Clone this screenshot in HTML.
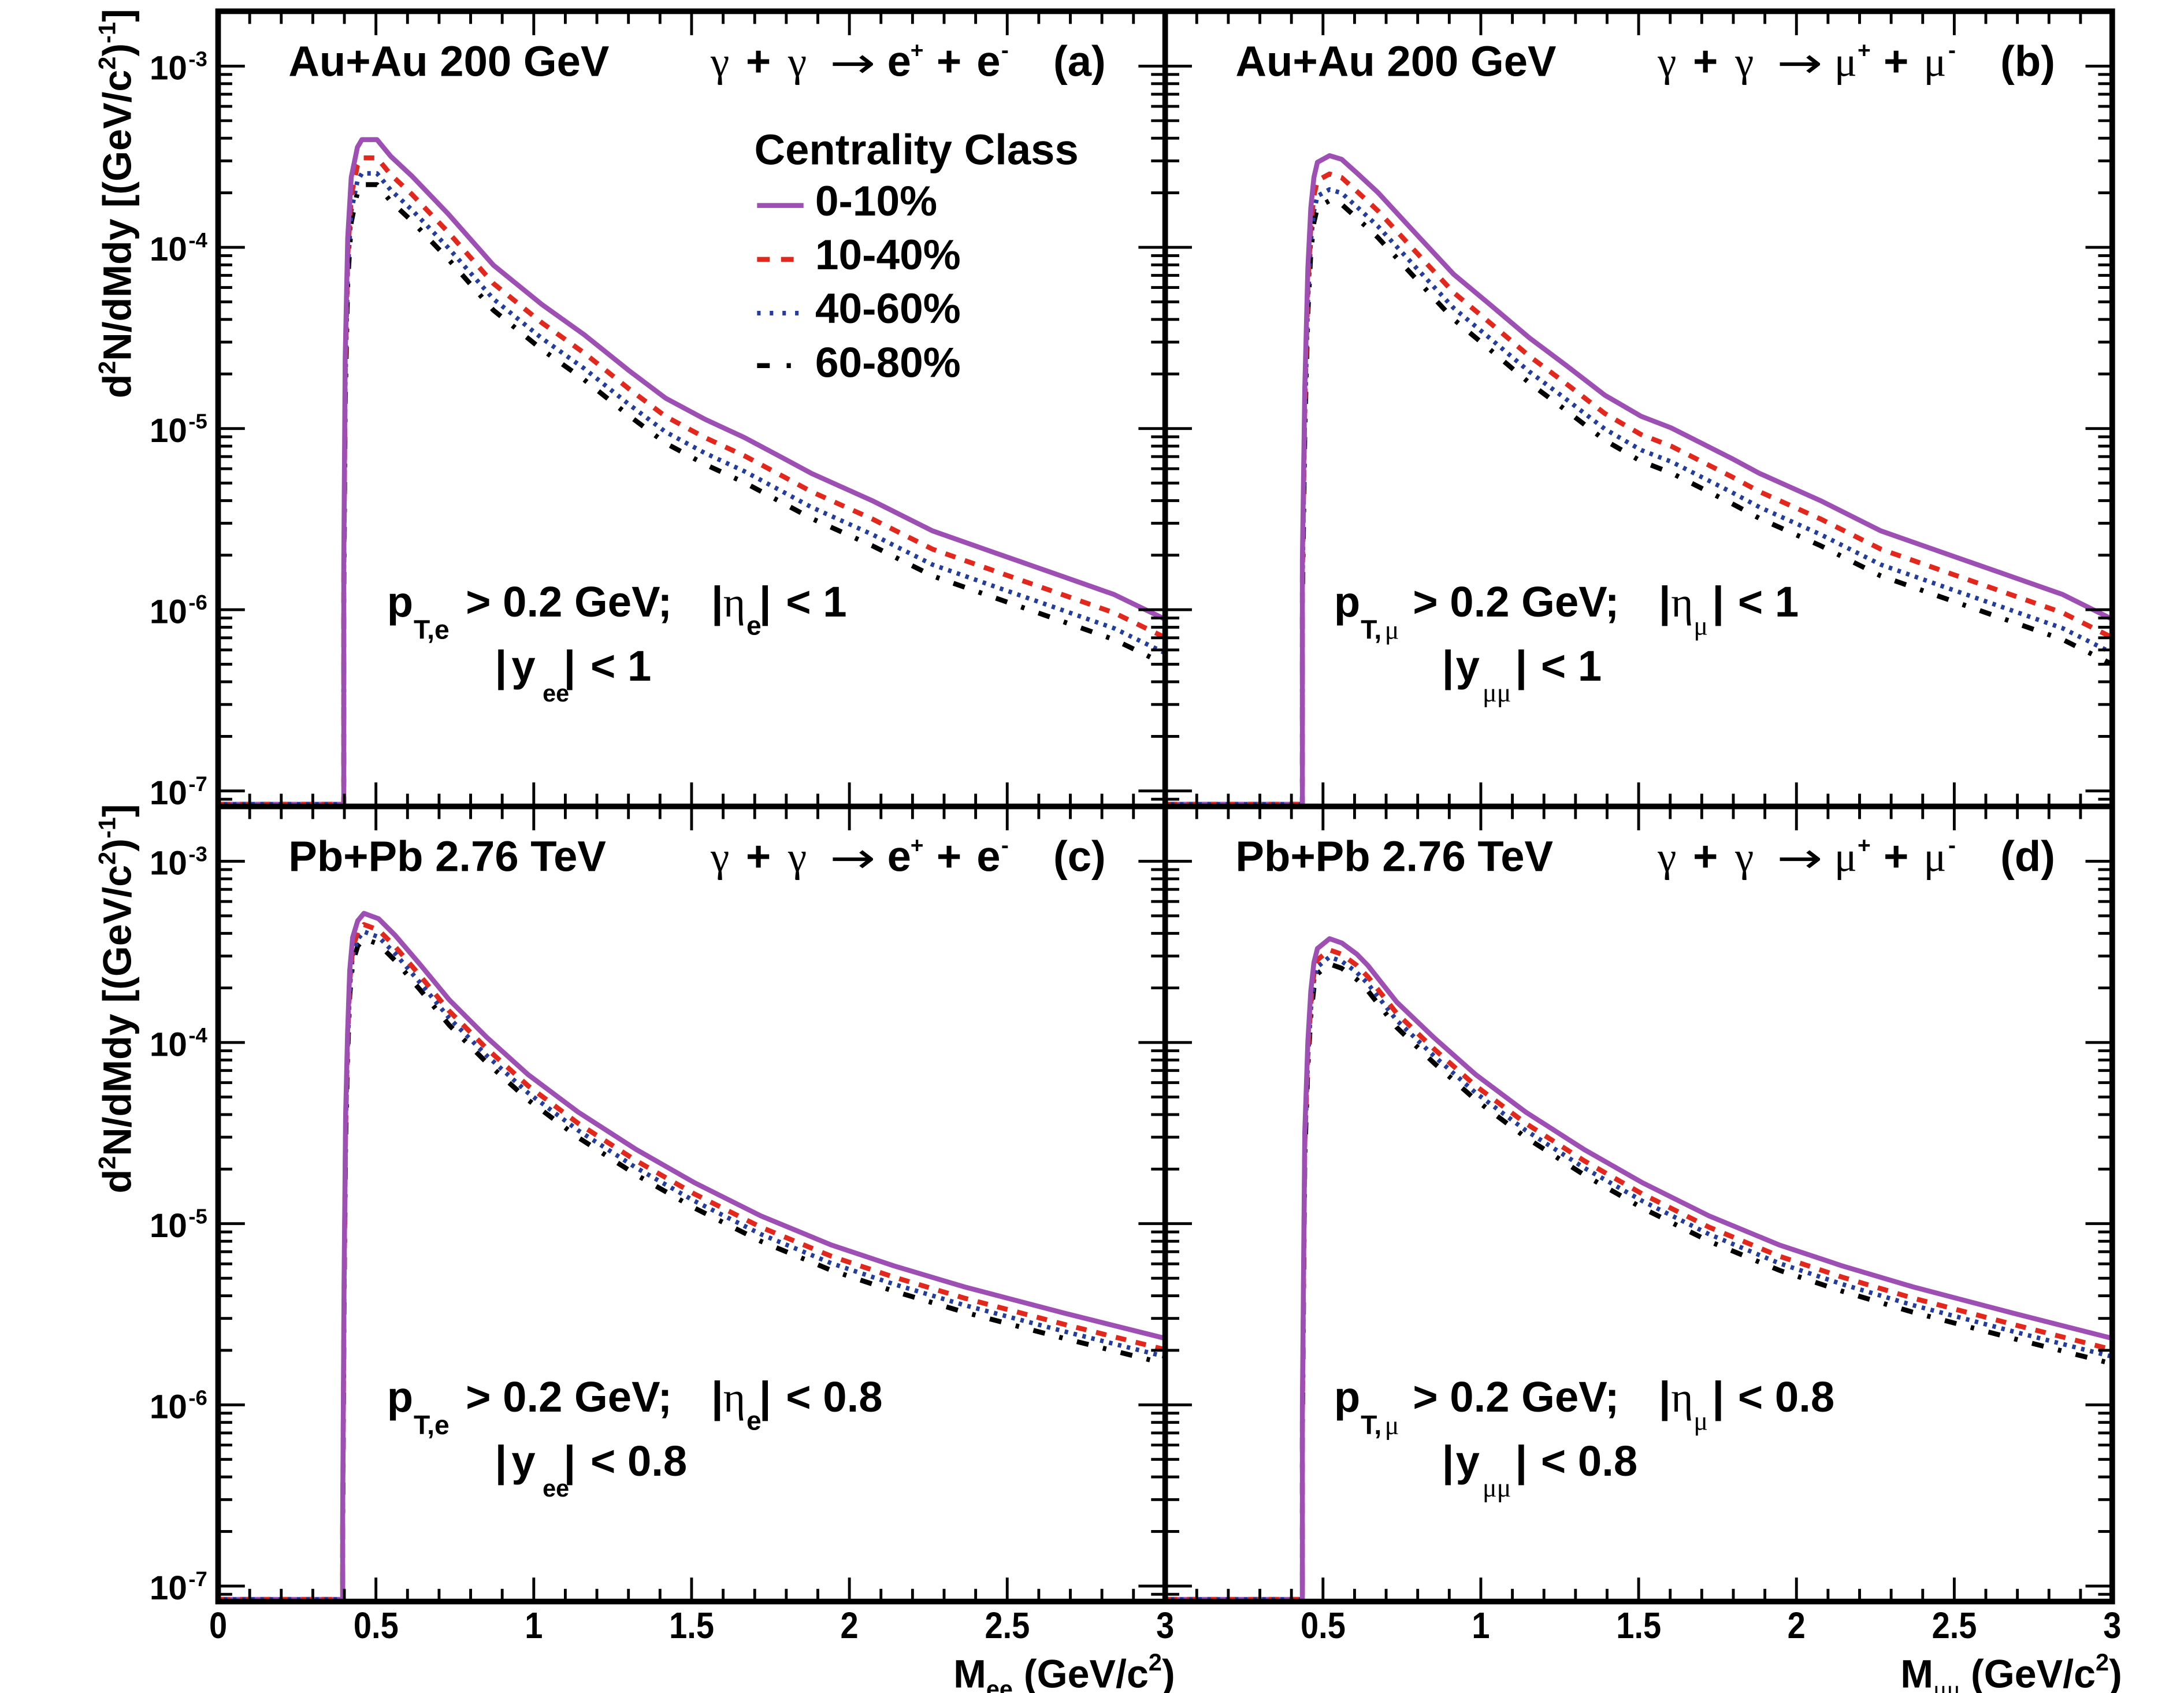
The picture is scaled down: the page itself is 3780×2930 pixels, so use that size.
<!DOCTYPE html>
<html><head><meta charset="utf-8"><style>html,body{margin:0;padding:0;background:#fff}svg{display:block}</style></head><body>
<svg xmlns="http://www.w3.org/2000/svg" width="3780" height="2930" viewBox="0 0 1552 1203" preserveAspectRatio="none" font-family="'Liberation Sans', Arial, sans-serif" font-weight="bold">
<defs>
<clipPath id="ca"><rect x="155" y="8" width="673" height="565"/></clipPath>
<clipPath id="cb"><rect x="828" y="8" width="673" height="565"/></clipPath>
<clipPath id="cc"><rect x="155" y="573" width="673" height="565"/></clipPath>
<clipPath id="cd"><rect x="828" y="573" width="673" height="565"/></clipPath>
<polyline id="pa" points="244.3,575 244.3,400 245.3,255 247.1,169 249.6,126 254,104.6 257.2,99.2 267.9,99.2 277.6,111 292.6,125 318.4,151.9 350.6,188.4 385,216.3 415.1,237.8 447.3,263.6 473.1,283 501.1,298 529,310.9 557,325.8 576.7,336.4 619.7,355.7 662.6,377.2 705.6,392.3 748.6,407.3 791.6,422.4 830,441"/>
<polyline id="pb" points="925.5,575 925.5,398 927.2,276.5 929.4,190.5 931.5,147.6 933.7,126 936.2,115.3 944.8,110.6 953.4,113.2 964.2,122.9 979.2,136.8 1005,164.8 1032.9,194.8 1058.7,216.3 1086.7,240 1112.5,259.3 1140.4,280.8 1166.2,295.8 1187.5,304 1230.7,325.8 1250.4,336.4 1293.6,355.7 1336.5,377.2 1379.6,392.3 1422.6,407.3 1465.7,422.4 1503,441"/>
<polyline id="pc" points="243.5,1140 243.5,1079 244.5,911.3 245.6,793.1 247,734 248.5,689.8 250.6,666.1 254.2,654.3 258.6,649 269,652.8 280.8,664.6 298.5,685.3 319.2,710.4 345.8,737 375.3,763.6 410.8,790.2 452.1,816.8 493.5,840.4 540.7,864 590.9,884.7 635.3,899.5 684.9,914.3 756,933 830,951.5"/>
<polyline id="pd" points="925.5,1140 925.5,1000 927.2,805 929.4,740 931.5,704 933.7,684 936.2,674 944.8,667 953.4,670 964.2,678 972,686 992.5,712 1019.2,737.5 1048.7,763.6 1084.2,790.2 1125.7,816.8 1167.1,840.4 1214.5,864 1264.6,884.7 1309.1,899.5 1359,914.3 1430.2,933 1503,951.5"/>
<path id="yt" d="M0 47h19M0 175.75h19M0 304.5h19M0 433.25h19M0 562h19M0 136.99h10M0 114.32h10M0 98.23h10M0 85.76h10M0 75.56h10M0 66.94h10M0 59.48h10M0 52.89h10M0 265.74h10M0 243.07h10M0 226.98h10M0 214.51h10M0 204.31h10M0 195.69h10M0 188.23h10M0 181.64h10M0 394.49h10M0 371.82h10M0 355.73h10M0 343.26h10M0 333.06h10M0 324.44h10M0 316.98h10M0 310.39h10M0 523.24h10M0 500.57h10M0 484.48h10M0 472.01h10M0 461.81h10M0 453.19h10M0 445.73h10M0 439.14h10M0 567.89h10"/>
<path id="xt" d="M112.15 0v-17M224.3 0v-17M336.45 0v-17M448.6 0v-17M560.75 0v-17M22.43 0v-9M44.86 0v-9M67.29 0v-9M89.72 0v-9M134.58 0v-9M157.01 0v-9M179.44 0v-9M201.87 0v-9M246.73 0v-9M269.16 0v-9M291.59 0v-9M314.02 0v-9M358.88 0v-9M381.31 0v-9M403.74 0v-9M426.17 0v-9M471.03 0v-9M493.46 0v-9M515.89 0v-9M538.32 0v-9M583.18 0v-9M605.61 0v-9M628.04 0v-9M650.47 0v-9"/>
</defs>
<rect x="0" y="0" width="1552" height="1203" fill="#fff"/>

<!-- curves -->
<g fill="none" stroke-linejoin="round">
<g clip-path="url(#ca)">
<line x1="156" y1="571.5" x2="244" y2="571.5" stroke="#9d4fb3" stroke-width="3.5"/>
<line x1="156" y1="571.5" x2="244" y2="571.5" stroke="#e2271d" stroke-width="3.5" stroke-dasharray="7.5 7"/>
<line x1="159" y1="571.5" x2="244" y2="571.5" stroke="#233c9e" stroke-width="3.2" stroke-dasharray="2.5 4"/>
<use href="#pa" transform="translate(0,32)" stroke="#000" stroke-width="3.5" stroke-dasharray="8.5 10.5 2.5 10.5"/>
<use href="#pa" transform="translate(0,24)" stroke="#233c9e" stroke-width="3.2" stroke-dasharray="2.5 4"/>
<use href="#pa" transform="translate(0,13)" stroke="#e2271d" stroke-width="3.5" stroke-dasharray="7.5 7"/>
<use href="#pa" stroke="#9d4fb3" stroke-width="3.5"/>
</g>
<g clip-path="url(#cb)">
<line x1="829" y1="571.5" x2="925" y2="571.5" stroke="#9d4fb3" stroke-width="3.5"/>
<line x1="829" y1="571.5" x2="925" y2="571.5" stroke="#e2271d" stroke-width="3.5" stroke-dasharray="7.5 7"/>
<line x1="832" y1="571.5" x2="925" y2="571.5" stroke="#233c9e" stroke-width="3.2" stroke-dasharray="2.5 4"/>
<use href="#pb" transform="translate(0,32)" stroke="#000" stroke-width="3.5" stroke-dasharray="8.5 10.5 2.5 10.5"/>
<use href="#pb" transform="translate(0,24)" stroke="#233c9e" stroke-width="3.2" stroke-dasharray="2.5 4"/>
<use href="#pb" transform="translate(0,13)" stroke="#e2271d" stroke-width="3.5" stroke-dasharray="7.5 7"/>
<use href="#pb" stroke="#9d4fb3" stroke-width="3.5"/>
</g>
<g clip-path="url(#cc)">
<line x1="156" y1="1136.5" x2="243" y2="1136.5" stroke="#9d4fb3" stroke-width="3.5"/>
<line x1="156" y1="1136.5" x2="243" y2="1136.5" stroke="#e2271d" stroke-width="3.5" stroke-dasharray="7.5 7"/>
<line x1="159" y1="1136.5" x2="243" y2="1136.5" stroke="#233c9e" stroke-width="3.2" stroke-dasharray="2.5 4"/>
<use href="#pc" transform="translate(0,18)" stroke="#000" stroke-width="3.5" stroke-dasharray="8.5 10.5 2.5 10.5"/>
<use href="#pc" transform="translate(0,13)" stroke="#233c9e" stroke-width="3.2" stroke-dasharray="2.5 4"/>
<use href="#pc" transform="translate(0,8)" stroke="#e2271d" stroke-width="3.5" stroke-dasharray="7.5 7"/>
<use href="#pc" stroke="#9d4fb3" stroke-width="3.5"/>
</g>
<g clip-path="url(#cd)">
<line x1="829" y1="1136.5" x2="925" y2="1136.5" stroke="#9d4fb3" stroke-width="3.5"/>
<line x1="829" y1="1136.5" x2="925" y2="1136.5" stroke="#e2271d" stroke-width="3.5" stroke-dasharray="7.5 7"/>
<line x1="832" y1="1136.5" x2="925" y2="1136.5" stroke="#233c9e" stroke-width="3.2" stroke-dasharray="2.5 4"/>
<use href="#pd" transform="translate(0,18)" stroke="#000" stroke-width="3.5" stroke-dasharray="8.5 10.5 2.5 10.5"/>
<use href="#pd" transform="translate(0,13)" stroke="#233c9e" stroke-width="3.2" stroke-dasharray="2.5 4"/>
<use href="#pd" transform="translate(0,8)" stroke="#e2271d" stroke-width="3.5" stroke-dasharray="7.5 7"/>
<use href="#pd" stroke="#9d4fb3" stroke-width="3.5"/>
</g>
</g>

<!-- ticks -->
<g stroke="#000" stroke-width="2" fill="none">
<use href="#xt" transform="translate(155,573)"/>
<use href="#xt" transform="translate(155,8) scale(1,-1)"/>
<use href="#xt" transform="translate(828,573)"/>
<use href="#xt" transform="translate(828,8) scale(1,-1)"/>
<use href="#xt" transform="translate(155,1138)"/>
<use href="#xt" transform="translate(155,573) scale(1,-1)"/>
<use href="#xt" transform="translate(828,1138)"/>
<use href="#xt" transform="translate(828,573) scale(1,-1)"/>
<use href="#yt" transform="translate(155,0)"/>
<use href="#yt" transform="translate(828,0) scale(-1,1)"/>
<use href="#yt" transform="translate(828,0)"/>
<use href="#yt" transform="translate(1501,0) scale(-1,1)"/>
<use href="#yt" transform="translate(155,565)"/>
<use href="#yt" transform="translate(828,565) scale(-1,1)"/>
<use href="#yt" transform="translate(828,565)"/>
<use href="#yt" transform="translate(1501,565) scale(-1,1)"/>
</g>

<!-- frames -->
<g stroke="#000" stroke-width="4" fill="none">
<rect x="155" y="8" width="1346" height="1130"/>
<line x1="828" y1="8" x2="828" y2="1138"/>
<line x1="155" y1="573" x2="1501" y2="573"/>
</g>

<!-- y tick labels -->
<g font-size="24" text-anchor="end">
<text x="133" y="56.5">10</text><text x="133" y="185.25">10</text><text x="133" y="314">10</text><text x="133" y="442.75">10</text><text x="133" y="571.5">10</text>
<text x="133" y="621.5">10</text><text x="133" y="750.25">10</text><text x="133" y="879">10</text><text x="133" y="1007.75">10</text><text x="133" y="1136.5">10</text>
</g>
<g font-size="15">
<text x="134" y="47">-3</text><text x="134" y="175.75">-4</text><text x="134" y="304.5">-5</text><text x="134" y="433.25">-6</text><text x="134" y="562">-7</text>
<text x="134" y="612">-3</text><text x="134" y="740.75">-4</text><text x="134" y="869.5">-5</text><text x="134" y="998.25">-6</text><text x="134" y="1127">-7</text>
</g>

<!-- x tick labels -->
<g font-size="23" text-anchor="middle">
<text transform="translate(155,1164) scale(1,1.15)">0</text>
<text transform="translate(267.2,1164) scale(1,1.15)">0.5</text>
<text transform="translate(379.3,1164) scale(1,1.15)">1</text>
<text transform="translate(491.5,1164) scale(1,1.15)">1.5</text>
<text transform="translate(603.6,1164) scale(1,1.15)">2</text>
<text transform="translate(715.8,1164) scale(1,1.15)">2.5</text>
<text transform="translate(828,1164) scale(1,1.15)">3</text>
<text transform="translate(940.2,1164) scale(1,1.15)">0.5</text>
<text transform="translate(1052.3,1164) scale(1,1.15)">1</text>
<text transform="translate(1164.5,1164) scale(1,1.15)">1.5</text>
<text transform="translate(1276.6,1164) scale(1,1.15)">2</text>
<text transform="translate(1388.8,1164) scale(1,1.15)">2.5</text>
<text transform="translate(1501,1164) scale(1,1.15)">3</text>
</g>

<!-- axis titles -->
<text transform="translate(93,283) rotate(-90)" font-size="28">d<tspan font-size="17" dy="-11">2</tspan><tspan dy="11">N/dMdy [(GeV/c</tspan><tspan font-size="17" dy="-11">2</tspan><tspan dy="11">)</tspan><tspan font-size="17" dy="-11">-1</tspan><tspan dy="11">]</tspan></text>
<text transform="translate(93,848) rotate(-90)" font-size="28">d<tspan font-size="17" dy="-11">2</tspan><tspan dy="11">N/dMdy [(GeV/c</tspan><tspan font-size="17" dy="-11">2</tspan><tspan dy="11">)</tspan><tspan font-size="17" dy="-11">-1</tspan><tspan dy="11">]</tspan></text>

<text x="677.5" y="1199" font-size="28">M</text>
<text x="700.8" y="1206" font-size="17">ee</text>
<text x="727.5" y="1199" font-size="28">(GeV/c</text>
<text x="816.2" y="1187" font-size="17">2</text>
<text x="825.7" y="1199" font-size="28">)</text>

<text x="1350.5" y="1199" font-size="28">M</text>
<text x="1373.8" y="1206" font-size="18" font-family="'Liberation Serif', serif" font-weight="normal">μμ</text>
<text x="1400.5" y="1199" font-size="28">(GeV/c</text>
<text x="1489.2" y="1187" font-size="17">2</text>
<text x="1498.7" y="1199" font-size="28">)</text>

<!-- panel titles -->
<g font-size="30.5">
<text x="205" y="54">Au+Au 200 GeV</text>
<text x="878" y="54">Au+Au 200 GeV</text>
<text x="205" y="619">Pb+Pb 2.76 TeV</text>
<text x="878" y="619">Pb+Pb 2.76 TeV</text>
</g>

<!-- reactions -->
<g font-size="30" font-family="'Liberation Serif', serif" font-weight="normal">
<text x="505" y="54">γ</text><text x="560" y="54">γ</text>
<text x="505" y="619">γ</text><text x="560" y="619">γ</text>
<text x="1178" y="54">γ</text><text x="1233" y="54">γ</text>
<text x="1303.5" y="54">μ</text><text x="1367" y="54">μ</text>
<text x="1178" y="619">γ</text><text x="1233" y="619">γ</text>
<text x="1303.5" y="619">μ</text><text x="1367" y="619">μ</text>
</g>
<g font-size="30" font-family="'DejaVu Sans', 'Liberation Sans', sans-serif" font-weight="normal" text-anchor="middle">
<text transform="translate(606,55) scale(1.3,1)">→</text>
<text transform="translate(606,620) scale(1.3,1)">→</text>
<text transform="translate(1279,55) scale(1.3,1)">→</text>
<text transform="translate(1279,620) scale(1.3,1)">→</text>
</g>
<g font-size="30.5">
<text x="530" y="54">+</text><text x="630.5" y="54">e</text><text x="665.5" y="54">+</text><text x="694" y="54">e</text><text x="748.5" y="54">(a)</text>
<text x="530" y="619">+</text><text x="630.5" y="619">e</text><text x="665.5" y="619">+</text><text x="694" y="619">e</text><text x="748.5" y="619">(c)</text>
<text x="1203" y="54">+</text><text x="1338.5" y="54">+</text><text x="1421.5" y="54">(b)</text>
<text x="1203" y="619">+</text><text x="1338.5" y="619">+</text><text x="1421.5" y="619">(d)</text>
</g>
<g font-size="16">
<text x="647" y="41">+</text><text x="711.5" y="41">-</text>
<text x="647" y="606">+</text><text x="711.5" y="606">-</text>
<text x="1320" y="41">+</text><text x="1384.5" y="41">-</text>
<text x="1320" y="606">+</text><text x="1384.5" y="606">-</text>
</g>

<!-- legend -->
<text x="536" y="116.8" font-size="30.5">Centrality Class</text>
<g font-size="30">
<text x="579.3" y="153.1">0-10%</text>
<text x="579.3" y="191.3">10-40%</text>
<text x="579.3" y="229.6">40-60%</text>
<text x="579.3" y="267.9">60-80%</text>
</g>
<g fill="none">
<path d="M538 146H571" stroke="#9d4fb3" stroke-width="3.5"/>
<path d="M538 184.3h9M555 184.3h9" stroke="#e2271d" stroke-width="3.5"/>
<path d="M538 222.5h2.5M547 222.5h2.5M556 222.5h2.5M565 222.5h2.5" stroke="#233c9e" stroke-width="3.2"/>
<path d="M538 259.8h9M559 259.8h3" stroke="#000" stroke-width="3.5"/>
</g>

<!-- cut text -->
<g font-size="30.5">
<text x="275" y="438">p</text><text x="331" y="438">&gt; 0.2 GeV;</text><text x="558.5" y="438">&lt; 1</text>
<text x="363.5" y="483.6">y</text><text x="419.6" y="483.6">&lt; 1</text>
<text x="275" y="1003">p</text><text x="331" y="1003">&gt; 0.2 GeV;</text><text x="558.5" y="1003">&lt; 0.8</text>
<text x="363.5" y="1048.6">y</text><text x="419.6" y="1048.6">&lt; 0.8</text>
<text x="948" y="438">p</text><text x="1004" y="438">&gt; 0.2 GeV;</text><text x="1235" y="438">&lt; 1</text>
<text x="1034.5" y="483.6">y</text><text x="1095" y="483.6">&lt; 1</text>
<text x="948" y="1003">p</text><text x="1004" y="1003">&gt; 0.2 GeV;</text><text x="1235" y="1003">&lt; 0.8</text>
<text x="1034.5" y="1048.6">y</text><text x="1095" y="1048.6">&lt; 0.8</text>
</g>
<g font-size="30.5" text-anchor="middle">
<text x="509.7" y="438">|</text><text x="543.7" y="438">|</text><text x="356" y="483.6">|</text><text x="404.8" y="483.6">|</text>
<text x="509.7" y="1003">|</text><text x="543.7" y="1003">|</text><text x="356" y="1048.6">|</text><text x="404.8" y="1048.6">|</text>
<text x="1183" y="438">|</text><text x="1221" y="438">|</text><text x="1029" y="483.6">|</text><text x="1081" y="483.6">|</text>
<text x="1183" y="1003">|</text><text x="1221" y="1003">|</text><text x="1029" y="1048.6">|</text><text x="1081" y="1048.6">|</text>
</g>
<g font-size="30" font-family="'Liberation Serif', serif" font-weight="normal">
<text x="514" y="438">η</text><text x="514" y="1003">η</text>
<text x="1187.5" y="438">η</text><text x="1187.5" y="1003">η</text>
</g>
<g font-size="19">
<text x="294" y="454">T,e</text><text x="530.5" y="451">e</text>
<text x="294" y="1019">T,e</text><text x="530.5" y="1016">e</text>
<text x="967" y="454">T,</text><text x="967" y="1019">T,</text>
</g>
<g font-size="17">
<text x="385.6" y="498.4">ee</text><text x="385.6" y="1063.4">ee</text>
</g>
<g font-size="19" font-family="'Liberation Serif', serif" font-weight="normal">
<text x="984" y="454">μ</text><text x="984" y="1019">μ</text>
<text x="1203.5" y="451">μ</text><text x="1203.5" y="1016">μ</text>
<text x="1053.5" y="498.4">μμ</text><text x="1053.5" y="1063.4">μμ</text>
</g>
</svg>
</body></html>
